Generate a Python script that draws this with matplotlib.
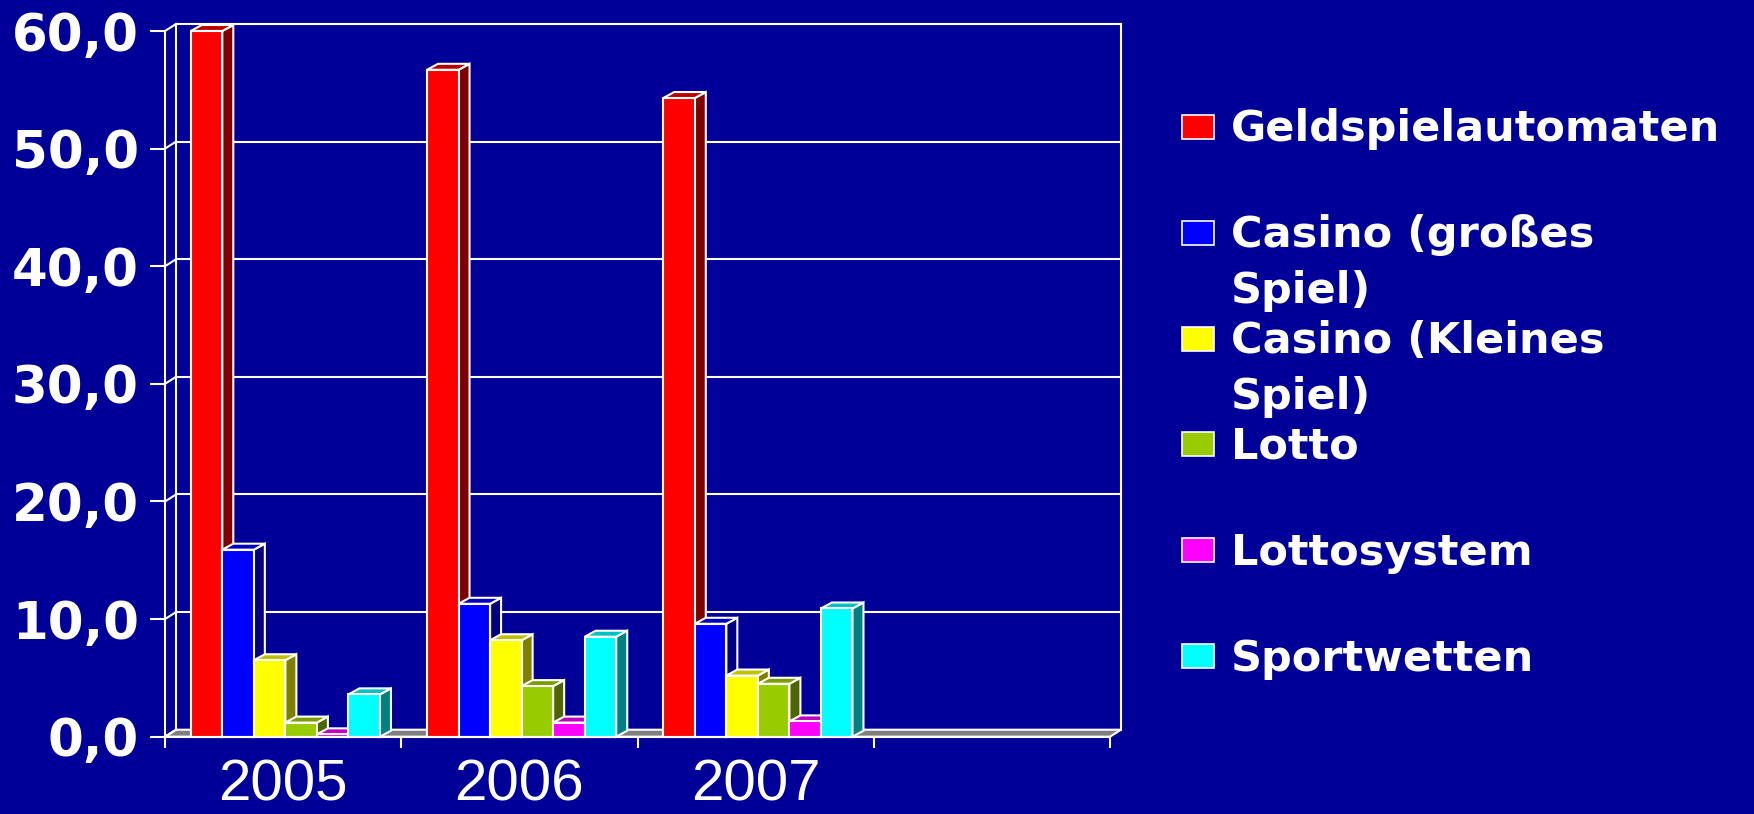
import matplotlib
matplotlib.use('Agg')
import matplotlib.pyplot as plt
from matplotlib.patches import Polygon, Rectangle

# Daten (Anteile in %)
years = ['2005', '2006', '2007']
series_labels = ['Geldspielautomaten', 'Casino (großes\nSpiel)',
                 'Casino (Kleines\nSpiel)', 'Lotto', 'Lottosystem', 'Sportwetten']
geldspielautomaten = [60.0, 56.7, 54.3]
casino_gross = [15.9, 11.3, 9.6]
casino_klein = [6.5, 8.2, 5.2]
lotto = [1.2, 4.3, 4.5]
lottosystem = [0.2, 1.2, 1.3]
sportwetten = [3.6, 8.5, 10.9]
yticks = [0, 10, 20, 30, 40, 50, 60]

front_colors = ['#FF0000', '#0000FF', '#FFFF00', '#99CC00', '#FF00FF', '#00FFFF']
top_colors = ['#B80000', '#0000C0', '#C0C000', '#7A9E00', '#C000C0', '#00C0C0']
side_colors = ['#800000', '#000080', '#808000', '#4D6600', '#800080', '#008080']

BG = '#000099'
W, H = 1754, 814
n_slots = 4  # leere vierte Kategorie wie im Original

all_series = [geldspielautomaten, casino_gross, casino_klein, lotto, lottosystem, sportwetten]

fig = plt.figure(figsize=(W / 100, H / 100), dpi=100, facecolor=BG)
# Achse so platzieren, dass die vordere Ebene genau passt
ax = fig.add_axes([165 / W, 1 - 736.7 / H, 945 / W, 705.7 / H])
ax.set_facecolor('none')
ax.set_xlim(0, n_slots)
ax.set_ylim(0, 60)

px_x = 945 / n_slots      # Pixel pro Kategorie
px_y = 705.7 / 60         # Pixel pro Prozentpunkt
wall_dx, wall_dy = 11 / px_x, 7 / px_y
bar_dx, bar_dy = 11 / px_x, 6 / px_y

lw = 1.5
line_kw = dict(color='white', lw=lw, clip_on=False, solid_capstyle='projecting')

# Boden
floor = Polygon([(0, 0), (n_slots, 0), (n_slots + wall_dx, wall_dy), (wall_dx, wall_dy)],
                closed=True, facecolor='#808080', edgecolor='white', lw=lw,
                clip_on=False, zorder=1)
ax.add_patch(floor)

# Rückwand + Gitterlinien
for v in yticks[1:]:
    ax.plot([wall_dx, n_slots + wall_dx], [v + wall_dy, v + wall_dy], zorder=1, **line_kw)
ax.plot([wall_dx, wall_dx], [wall_dy, 60 + wall_dy], zorder=1, **line_kw)
ax.plot([n_slots + wall_dx, n_slots + wall_dx], [wall_dy, 60 + wall_dy], zorder=1, **line_kw)
for v in yticks:
    ax.plot([0, wall_dx], [v, v + wall_dy], zorder=1, **line_kw)

# Balken mit 3D-Effekt
bar_w = 0.1335
group_off = 0.109
z = 3
for j in range(len(years)):
    for i, vals in enumerate(all_series):
        x0 = j + group_off + i * bar_w
        h = vals[j]
        side = Polygon([(x0 + bar_w, 0), (x0 + bar_w + bar_dx, bar_dy),
                        (x0 + bar_w + bar_dx, h + bar_dy), (x0 + bar_w, h)],
                       closed=True, facecolor=side_colors[i], edgecolor='white',
                       lw=lw, clip_on=False, zorder=z)
        top = Polygon([(x0, h), (x0 + bar_dx, h + bar_dy),
                       (x0 + bar_w + bar_dx, h + bar_dy), (x0 + bar_w, h)],
                      closed=True, facecolor=top_colors[i], edgecolor='white',
                      lw=lw, clip_on=False, zorder=z)
        ax.add_patch(side)
        ax.add_patch(top)
        ax.bar(x0, h, width=bar_w, align='edge', color=front_colors[i],
               edgecolor='white', linewidth=lw, zorder=z + 0.5, clip_on=False)
        z += 1

# Achsen
for s in ['top', 'right']:
    ax.spines[s].set_visible(False)
for s in ['left', 'bottom']:
    ax.spines[s].set_color('white')
    ax.spines[s].set_linewidth(lw)
    ax.spines[s].set_zorder(50)

ax.set_yticks(yticks)
ax.set_yticklabels([f'{v:.1f}'.replace('.', ',') for v in yticks],
                   fontsize=37, fontweight='bold', family='DejaVu Sans', color='white')
ax.tick_params(axis='y', colors='white', length=10.8, width=lw, pad=8.0, direction='out')

ax.set_xticks(range(n_slots + 1))
ax.set_xticklabels([])
ax.set_xticks([j + 0.5 for j in range(len(years))], minor=True)
ax.set_xticklabels(years, minor=True, fontsize=42, family='Liberation Sans', color='white')
ax.tick_params(axis='x', which='major', colors='white', length=8, width=lw, direction='out')
ax.tick_params(axis='x', which='minor', length=0, pad=15.5, colors='white')

# Legende von Hand
for k, label in enumerate(series_labels):
    yc = 127 + k * 105.8
    sq = Rectangle((1182 / W, 1 - (yc + 12) / H), 31.5 / W, 24 / H,
                   transform=fig.transFigure, facecolor=front_colors[k],
                   edgecolor='white', lw=1.2)
    fig.patches.append(sq)
    fig.text(1231 / W, 1 - (yc - 18.5) / H, label, fontsize=31, fontweight='bold',
             family='DejaVu Sans', color='white', va='top', ha='left',
             linespacing=1.41)

fig.savefig('out.png', dpi=100, facecolor=BG)
